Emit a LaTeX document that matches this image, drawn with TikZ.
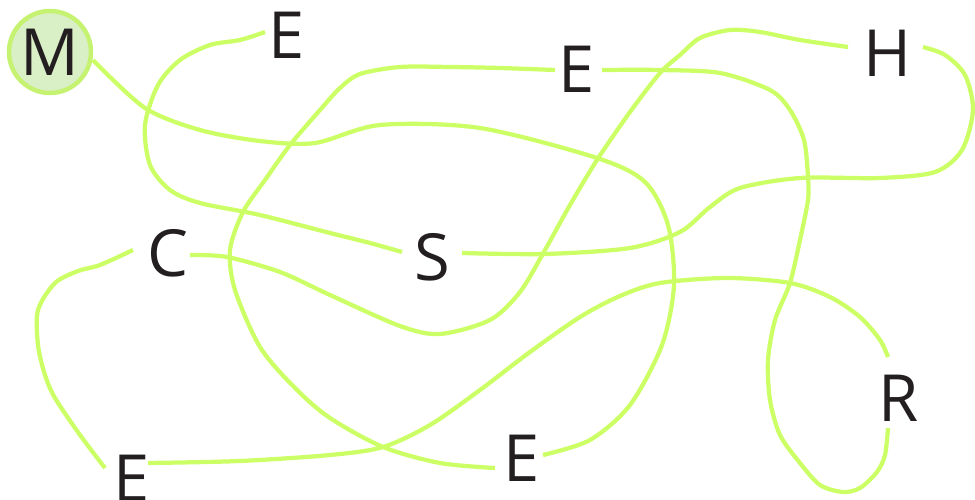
\documentclass[tikz,border=0pt]{standalone}
\usepackage{fontspec}
\setmainfont{Open Sans}
\usetikzlibrary{calc}
\definecolor{wirecol}{HTML}{CCFF66}
\definecolor{ringcol}{HTML}{C6F272}
\definecolor{mfill}{HTML}{D9EFC6}
\definecolor{ink}{HTML}{231F20}

\begin{document}
\begin{tikzpicture}[x=0.02cm, y=-0.02cm,
  letter/.style={inner sep=0pt,text=ink,font=\fontsize{37}{37}\selectfont},
  wire/.style={draw=wirecol,line width=0.085cm}]
  \useasboundingbox (0,0) rectangle (975,500);
  % letters
  \node[letter,circle,draw=ringcol,fill=mfill,line width=0.09cm,minimum size=1.64cm] (m) at (50,52) {M};
  \node[letter] (e1) at (287,35) {E};
  \node[letter] (e3) at (577,69) {E};
  \node[letter] (h) at (887,53) {H};
  \node[letter] (c) at (168,253) {C};
  \node[letter] (s) at (432,257) {S};
  \node[letter] (r) at (899,398) {R};
  \node[letter] (e2) at (132,478) {E};
  \node[letter] (e4) at (522,458) {E};
  % wires
  \draw[wire] plot[smooth] coordinates {($(m)+(43,8)$) (145,108) (200,130) (260,141) (315,143)
    (380,125) (480,128) (597,158) (645,182) (668,225) (674,285) (662,345) (630,405) (590,440)
    ($(e4)+(21,-3)$)};
  \draw[wire] plot[smooth] coordinates {($(e1)+(-22,-3)$) (240,40) (210,45) (180,60) (158,85) (145,125)
    (150,165) (170,190) (200,203) (260,215) (330,233) (370,243) ($(s)+(-30,-5)$)};
  \draw[wire] plot[smooth] coordinates {($(s)+(30,-4)$) (545,254) (630,248) (680,232) (710,207)
    (740,188) (800,178) (880,178) (935,172) (962,150) (973,110) (965,75) (945,55) ($(h)+(36,-6)$)};
  \draw[wire] plot[smooth] coordinates {($(h)+(-39,-6)$) (800,40) (760,32) (730,30) (700,38) (680,55)
    (660,73) (630,112) (597,160) (570,205) (545,250) (520,292) (490,320) (440,334) (400,326)
    (330,295) (280,272) (227,257) ($(c)+(22,2)$)};
  \draw[wire] plot[smooth] coordinates {($(c)+(-35,-3)$) (100,265) (78,271) (55,283) (38,310)
    (38,345) (45,375) (55,398) (80,435) ($(e2)+(-27,-10)$)};
  \draw[wire] plot[smooth] coordinates {($(e2)+(16,-15)$) (240,461) (330,455) (383,447) (430,425)
    (480,390) (530,352) (580,317) (620,296) (660,283) (727,278) (790,283) (830,297) (860,317)
    (880,340) ($(r)+(-11,-41)$)};
  \draw[wire] plot[smooth] coordinates {($(r)+(-11,30)$) (885,455) (877,472) (860,488) (843,492)
    (820,485) (800,463) (780,435) (770,400) (768,360) (775,320) (790,283) (800,240) (808,200)
    (808,177) (804,140) (790,110) (770,90) (720,73) (660,70) ($(e3)+(25,1)$)};
  \draw[wire] plot[smooth] coordinates {($(e3)+(-22,1)$) (500,68) (450,67) (400,67) (360,74) (340,88)
    (320,110) (290,145) (265,180) (243,212) (230,250) (235,290) (260,347) (295,388) (330,418)
    (383,447) (440,463) ($(e4)+(-27,10)$)};
\end{tikzpicture}
\end{document}
